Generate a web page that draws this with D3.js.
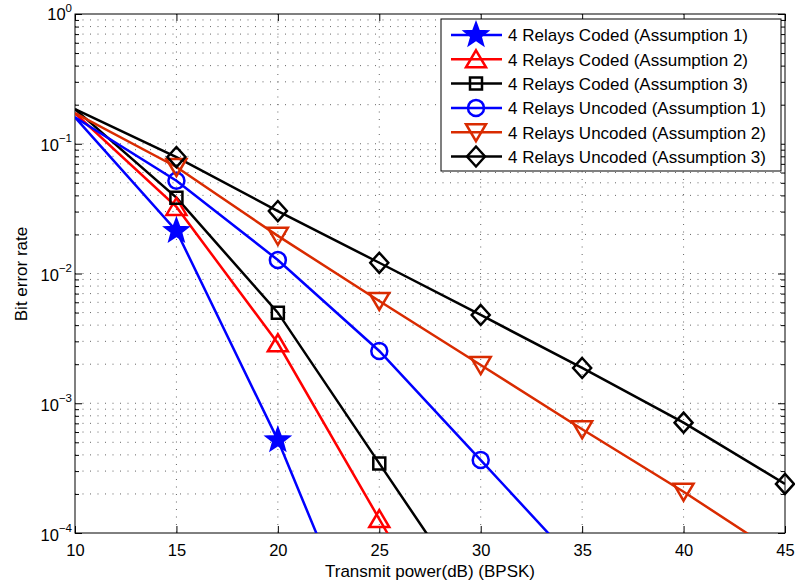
<!DOCTYPE html>
<html><head><meta charset="utf-8">
<script src="https://cdn.jsdelivr.net/npm/d3@7"></script>
<style>body{margin:0;background:#fff}svg{display:block}text{font-family:"Liberation Sans",Arial,sans-serif}</style>
</head><body><svg id="c" width="795" height="584"></svg>
<script>
const xValues = [10, 15, 20, 25, 30, 35, 40, 45];
const codedA1   = [0.160, 0.0213, 5.2e-4, 6.7e-6];
const codedA2   = [0.172, 0.0326, 2.9e-3, 1.28e-4, 5.6e-6];
const codedA3   = [0.185, 0.0384, 4.99e-3, 3.44e-4, 2.4e-5];
const uncodedA1 = [0.160, 0.0519, 0.0127, 2.53e-3, 3.65e-4, 5.2e-5];
const uncodedA2 = [0.172, 0.0662, 0.0195, 6.14e-3, 1.97e-3, 6.3e-4, 2.08e-4, 6.4e-5];
const uncodedA3 = [0.185, 0.079, 0.0303, 0.0121, 4.79e-3, 1.87e-3, 7.08e-4, 2.39e-4];
const seriesNames = ["4 Relays Coded (Assumption 1)","4 Relays Coded (Assumption 2)","4 Relays Coded (Assumption 3)",
  "4 Relays Uncoded (Assumption 1)","4 Relays Uncoded (Assumption 2)","4 Relays Uncoded (Assumption 3)"];
const xTicks = [10, 15, 20, 25, 30, 35, 40, 45];
const yTickExps = [0, -1, -2, -3, -4];
const xLabel = "Transmit power(dB) (BPSK)";
const yLabel = "Bit error rate";

const series = [
  {name: seriesNames[0], vals: codedA1, color: "#0000ff", marker: "star"},
  {name: seriesNames[1], vals: codedA2, color: "#ff0000", marker: "tri"},
  {name: seriesNames[2], vals: codedA3, color: "#000000", marker: "square"},
  {name: seriesNames[3], vals: uncodedA1, color: "#0000ff", marker: "circle"},
  {name: seriesNames[4], vals: uncodedA2, color: "#d92b00", marker: "tridown"},
  {name: seriesNames[5], vals: uncodedA3, color: "#000000", marker: "diamond"}
];

const L = 75, T = 14, R = 785, B = 533;
const svg = d3.select("#c");
const x = d3.scaleLinear().domain([10, 45]).range([L, R]);
const y = d3.scaleLog().domain([1e-4, 1]).range([B, T]);

// grid
const grid = svg.append("g").attr("stroke", "#000").attr("stroke-width", 1)
  .attr("stroke-dasharray", "1,6.5").attr("opacity", 0.6);
xTicks.slice(1, -1).forEach(v => grid.append("line")
  .attr("x1", x(v)).attr("x2", x(v)).attr("y1", T).attr("y2", B));
const minorY = [];
for (let e = -4; e < 0; e++) for (let m = 1; m <= 9; m++) minorY.push(m * Math.pow(10, e));
minorY.filter(v => v > 1e-4).forEach(v => grid.append("line")
  .attr("x1", L).attr("x2", R).attr("y1", y(v)).attr("y2", y(v)));

// axes
const majorY = yTickExps.map(e => Math.pow(10, e));
const minorOnly = minorY.filter(v => v > 1e-4 && v < 1 && !majorY.some(m => Math.abs(m - v) < 1e-12));
const gx = svg.append("g").attr("transform", `translate(0,${B})`)
  .call(d3.axisBottom(x).tickValues(xTicks).tickSize(-7).tickPadding(11).tickFormat(d3.format("d")));
const gxt = svg.append("g").attr("transform", `translate(0,${T})`)
  .call(d3.axisTop(x).tickValues(xTicks).tickSize(-7).tickFormat(""));
const gy = svg.append("g").attr("transform", `translate(${L},0)`)
  .call(d3.axisLeft(y).tickValues(majorY).tickSize(-7).tickFormat(""));
const gym = svg.append("g").attr("transform", `translate(${L},0)`)
  .call(d3.axisLeft(y).tickValues(minorOnly).tickSize(-4).tickFormat(""));
const gyr = svg.append("g").attr("transform", `translate(${R},0)`)
  .call(d3.axisRight(y).tickValues(majorY).tickSize(-7).tickFormat(""));
const gyrm = svg.append("g").attr("transform", `translate(${R},0)`)
  .call(d3.axisRight(y).tickValues(minorOnly).tickSize(-4).tickFormat(""));
[gx, gxt, gy, gym, gyr, gyrm].forEach(g => {
  g.select(".domain").remove();
  g.selectAll("line").attr("stroke", "#000");
});
gx.selectAll("text").attr("font-size", 16.5).attr("fill", "#000")
  .style("font-family", "Liberation Sans, Arial, sans-serif");

// y tick labels with superscript
yTickExps.forEach(e => {
  const t = svg.append("text").attr("x", 72).attr("y", y(Math.pow(10, e)) + (e === 0 ? 6 : 7.5))
    .attr("text-anchor", "end").attr("font-size", 16.5).attr("fill", "#000");
  t.append("tspan").text("10");
  t.append("tspan").attr("dy", e === 0 ? -8 : -9).attr("font-size", 11.5).text(e === 0 ? "0" : "\u2212" + Math.abs(e));
});

// frame
svg.append("rect").attr("x", L).attr("y", T).attr("width", R - L).attr("height", B - T)
  .attr("fill", "none").attr("stroke", "#000").attr("stroke-width", 1);

// labels
svg.append("text").attr("x", 430).attr("y", 577).attr("text-anchor", "middle")
  .attr("font-size", 17).text(xLabel);
svg.append("text").attr("transform", "translate(27,274) rotate(-90)").attr("text-anchor", "middle")
  .attr("font-size", 17).text(yLabel);

// marker paths
function markerPath(type) {
  switch (type) {
    case "circle": return d3.arc()({innerRadius: 0, outerRadius: 8, startAngle: 0, endAngle: 2 * Math.PI});
    case "square": return "M-6,-6H6V6H-6Z";
    case "diamond": return "M0,-10L9,0L0,10L-9,0Z";
    case "tri": return "M0,-9L10,8L-10,8Z";
    case "tridown": return "M0,9L10,-8L-10,-8Z";
    case "star": {
      const pts = [];
      for (let i = 0; i < 10; i++) {
        const r = i % 2 === 0 ? 11.5 : 4.8;
        const a = -Math.PI / 2 + i * Math.PI / 5;
        pts.push([r * Math.cos(a), r * Math.sin(a)]);
      }
      return "M" + pts.map(p => p.join(",")).join("L") + "Z";
    }
  }
}

svg.append("defs").append("clipPath").attr("id", "clip")
  .append("rect").attr("x", L).attr("y", T).attr("width", R - L).attr("height", B - T);

const plot = svg.append("g").attr("clip-path", "url(#clip)");
const line = d3.line().x(d => x(d[0])).y(d => y(d[1]));
series.forEach(s => {
  const data = s.vals.map((v, i) => [xValues[i], v]);
  plot.append("path").datum(data).attr("d", line).attr("fill", "none")
    .attr("stroke", s.color).attr("stroke-width", 2.5);
});
const mk = svg.append("g");
series.forEach(s => {
  const data = s.vals.map((v, i) => [xValues[i], v]).filter(d => d[1] >= 1e-4 && d[0] > 10);
  mk.selectAll(null).data(data).enter().append("path")
    .attr("transform", d => `translate(${x(d[0])},${y(d[1])})`)
    .attr("d", markerPath(s.marker))
    .attr("fill", s.marker === "star" ? s.color : "none")
    .attr("stroke", s.color).attr("stroke-width", 2.5);
});

// legend
const lg = svg.append("g");
lg.append("rect").attr("x", 441).attr("y", 19).attr("width", 340).attr("height", 152)
  .attr("fill", "#fff").attr("stroke", "#000").attr("stroke-width", 1);
series.forEach((s, i) => {
  const yy = 35 + i * 24.3;
  lg.append("line").attr("x1", 451).attr("x2", 502).attr("y1", yy).attr("y2", yy)
    .attr("stroke", s.color).attr("stroke-width", 2.5);
  lg.append("path").attr("transform", `translate(476,${yy})`).attr("d", markerPath(s.marker))
    .attr("fill", s.marker === "star" ? s.color : "none")
    .attr("stroke", s.color).attr("stroke-width", 2.5);
  lg.append("text").attr("x", 508).attr("y", yy + 6.3).attr("font-size", 17).text(s.name);
});
</script></body></html>
